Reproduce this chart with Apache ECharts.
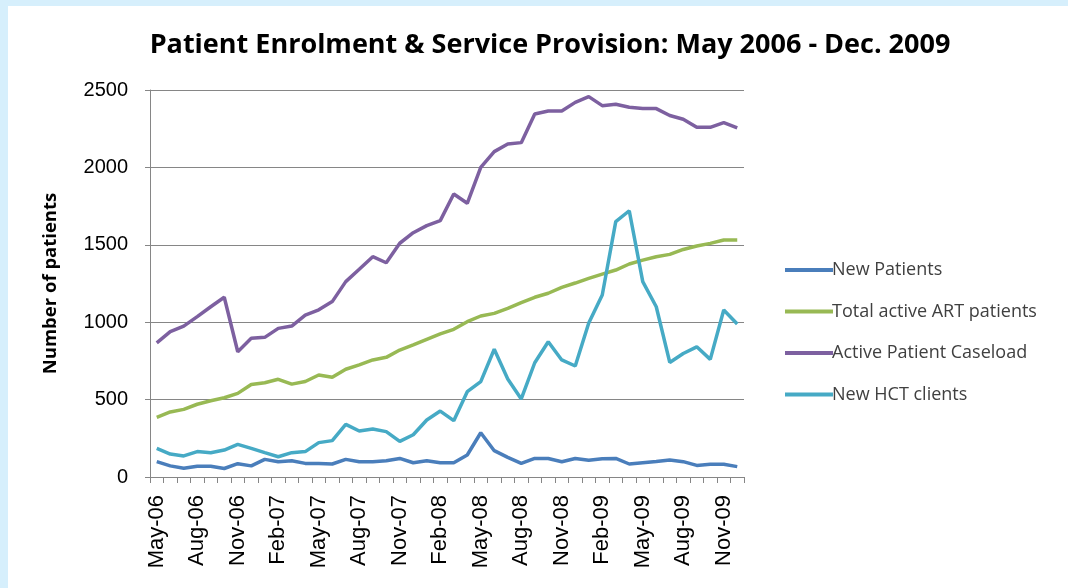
<!DOCTYPE html>
<html>
<head>
<meta charset="utf-8">
<script src="https://cdn.jsdelivr.net/npm/echarts@6/dist/echarts.min.js"></script>
<style>
  html, body { margin: 0; padding: 0; background: #d6effc; }
  #chart { width: 1068px; height: 588px; }
</style>
</head>
<body>
<div id="chart"></div>
<script>
// Monthly categories, May 2006 to Dec 2009
const months = [
  'May-06','Jun-06','Jul-06','Aug-06','Sep-06','Oct-06','Nov-06','Dec-06',
  'Jan-07','Feb-07','Mar-07','Apr-07','May-07','Jun-07','Jul-07','Aug-07','Sep-07','Oct-07','Nov-07','Dec-07',
  'Jan-08','Feb-08','Mar-08','Apr-08','May-08','Jun-08','Jul-08','Aug-08','Sep-08','Oct-08','Nov-08','Dec-08',
  'Jan-09','Feb-09','Mar-09','Apr-09','May-09','Jun-09','Jul-09','Aug-09','Sep-09','Oct-09','Nov-09','Dec-09'
];

const newPatients = [
  99, 72, 56, 70, 70, 55, 86, 72,
  114, 99, 105, 88, 88, 84, 114, 99, 99, 105, 120, 92,
  105, 92, 92, 142, 286, 170, 127, 88, 120, 120, 99, 120,
  108, 118, 120, 84, 92, 100, 110, 99, 75, 82, 82, 67
];

const totalART = [
  385, 420, 437, 470, 493, 512, 540, 598,
  609, 631, 600, 617, 659, 644, 696, 724, 756, 773, 820, 853,
  889, 924, 954, 1003, 1040, 1057, 1089, 1126, 1161, 1187, 1225, 1253,
  1283, 1311, 1337, 1376, 1401, 1423, 1438, 1470, 1492, 1509, 1531, 1531
];

const caseload = [
  866, 939, 975, 1036, 1100, 1161, 809, 896,
  902, 960, 975, 1046, 1080, 1133, 1262, 1342, 1423, 1384, 1510, 1578,
  1624, 1656, 1828, 1768, 2000, 2102, 2151, 2160, 2345, 2364, 2364, 2420,
  2457, 2399, 2408, 2389, 2380, 2380, 2335, 2311, 2259, 2259, 2289, 2255
];

const newHCT = [
  185, 148, 136, 164, 157, 174, 211, 185,
  157, 131, 157, 164, 222, 235, 340, 297, 310, 293, 230, 273,
  368, 426, 364, 551, 616, 825, 633, 504, 738, 874, 756, 717,
  995, 1176, 1650, 1720, 1262, 1100, 740, 798, 841, 760, 1079, 988
];

const seriesNames = ['New Patients', 'Total active ART patients', 'Active Patient Caseload', 'New HCT clients'];
const seriesColors = ['#4a7ebb', '#98b954', '#7d60a0', '#46aac5'];
const seriesData = [newPatients, totalART, caseload, newHCT];

const chart = echarts.init(document.getElementById('chart'), null, { renderer: 'canvas' });

const option = {
  backgroundColor: '#d6effc',
  animation: false,
  graphic: [{
    type: 'rect',
    z: -10,
    shape: { x: 8, y: 6, width: 1068 - 8, height: 588 - 6 },
    style: { fill: '#ffffff' },
    silent: true
  }],
  title: {
    text: 'Patient Enrolment & Service Provision: May 2006 - Dec. 2009',
    left: 545,
    textAlign: 'center',
    top: 27,
    textStyle: {
      fontFamily: 'Open Sans',
      fontWeight: 'bold',
      fontSize: 27,
      color: '#000000'
    }
  },
  legend: {
    orient: 'vertical',
    left: 780,
    top: 256,
    icon: 'rect',
    itemWidth: 48,
    itemHeight: 4,
    itemGap: 23.5,
    textStyle: {
      fontFamily: 'Open Sans',
      fontSize: 18,
      color: '#404040',
      padding: [0, 0, 0, -6]
    },
    data: seriesNames
  },
  grid: {
    left: 150,
    right: 1068 - 744,
    top: 90,
    bottom: 588 - 477,
    containLabel: false
  },
  xAxis: {
    type: 'category',
    data: months,
    boundaryGap: true,
    axisLine: { lineStyle: { color: '#868686', width: 1 } },
    axisTick: { show: true, interval: 0, length: 6, lineStyle: { color: '#868686' } },
    axisLabel: {
      interval: 2,
      rotate: 90,
      fontFamily: 'Liberation Sans',
      fontSize: 22,
      color: '#000000',
      margin: 18
    },
    splitLine: { show: false }
  },
  yAxis: {
    type: 'value',
    min: 0,
    max: 2500,
    interval: 500,
    name: 'Number of patients',
    nameLocation: 'middle',
    nameGap: 90,
    nameRotate: 90,
    nameTextStyle: {
      fontFamily: 'Open Sans',
      fontWeight: 'bold',
      fontSize: 18.5,
      color: '#000000'
    },
    axisLine: { show: true, lineStyle: { color: '#868686', width: 1 } },
    axisTick: { show: true, length: 5, lineStyle: { color: '#868686' } },
    axisLabel: {
      fontFamily: 'Liberation Sans',
      fontSize: 20,
      color: '#000000',
      margin: 22,
      formatter: (v) => String(v)
    },
    splitLine: { show: true, lineStyle: { color: '#868686', width: 1 } }
  },
  series: seriesNames.map((name, i) => ({
    name: name,
    type: 'line',
    data: seriesData[i],
    symbol: 'none',
    smooth: false,
    color: seriesColors[i],
    lineStyle: { width: 3.5, color: seriesColors[i] },
    z: 2 + i
  }))
};

chart.setOption(option);
</script>
</body>
</html>
